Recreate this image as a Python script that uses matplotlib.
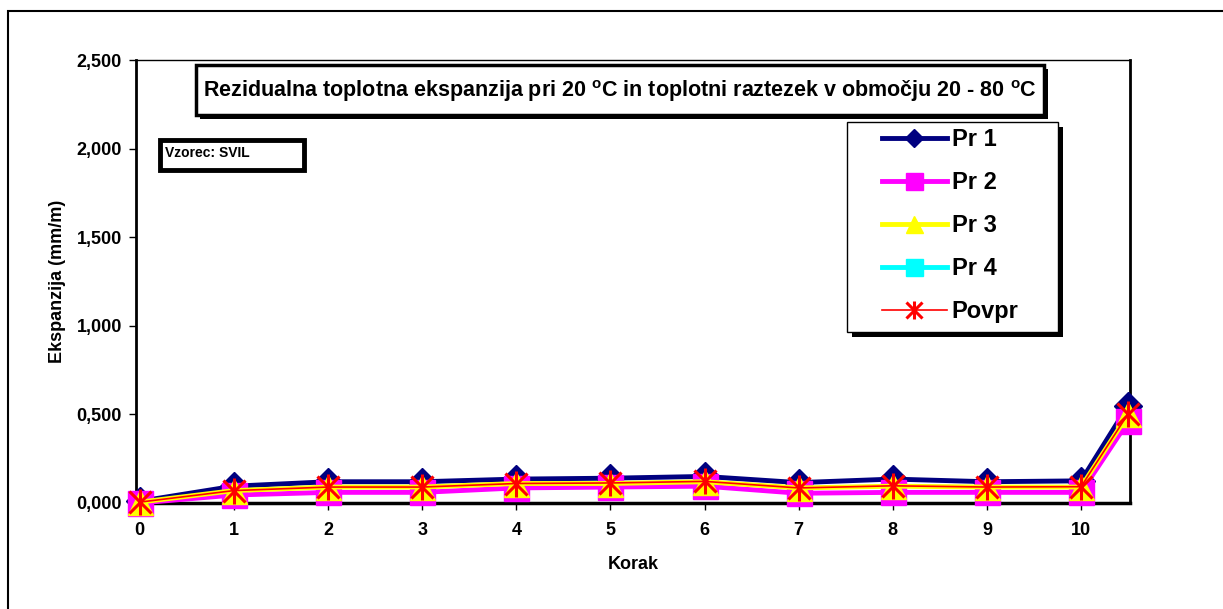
import matplotlib.pyplot as plt
from matplotlib.patches import Rectangle
from matplotlib.legend_handler import HandlerTuple

plt.rcParams['font.family'] = ['Liberation Sans', 'DejaVu Sans']
plt.rcParams['font.weight'] = 'bold'
plt.rcParams['mathtext.fontset'] = 'custom'
plt.rcParams['mathtext.rm'] = 'Liberation Sans:bold'
plt.rcParams['mathtext.default'] = 'rm'

# data
korak = [0, 1, 2, 3, 4, 5, 6, 7, 8, 9, 10, 10.5]
tick_pos = [0, 1, 2, 3, 4, 5, 6, 7, 8, 9, 10]
tick_lbl = ["0", "1", "2", "3", "4", "5", "6", "7", "8", "9", "10"]
pr1 = [0.010, 0.095, 0.120, 0.120, 0.135, 0.140, 0.150, 0.115, 0.135, 0.120, 0.125, 0.550]
pr2 = [0.000, 0.045, 0.060, 0.060, 0.085, 0.090, 0.095, 0.055, 0.060, 0.060, 0.060, 0.460]
pr3 = [0.005, 0.070, 0.090, 0.090, 0.110, 0.110, 0.120, 0.085, 0.095, 0.090, 0.090, 0.500]
pr4 = []
povpr = [0.005, 0.070, 0.090, 0.090, 0.110, 0.113, 0.122, 0.085, 0.097, 0.090, 0.092, 0.503]
yticks = [0, 0.5, 1.0, 1.5, 2.0, 2.5]
ylabels = ["0,000", "0,500", "1,000", "1,500", "2,000", "2,500"]

W, H = 1223, 609
fig = plt.figure(figsize=(W / 100, H / 100), dpi=100)


def fx(px):
    return px / W


def fy(py):
    return 1 - py / H


ax = fig.add_axes([fx(136), fy(503), fx(1130) - fx(136), fy(60) - fy(503)])

l1, = ax.plot(korak, pr1, color='#000080', lw=3.5, marker='D', ms=14, zorder=3, clip_on=False)
l2, = ax.plot(korak, pr2, color='#ff00ff', lw=3.5, marker='s', ms=18, zorder=4, clip_on=False)
l3, = ax.plot(korak, pr3, color='#ffff00', lw=3.5, marker='^', ms=18, zorder=5, clip_on=False)
l4, = ax.plot(pr4, pr4, color='#00ffff', lw=3.5, marker='s', ms=18, zorder=6, clip_on=False)
l5, = ax.plot(korak, povpr, color='red', lw=1.2, marker='x', ms=16, mew=2.2, zorder=7, clip_on=False)
l5b, = ax.plot(korak, povpr, ls='none', color='red', marker='|', ms=19, mew=2.2, zorder=7, clip_on=False)

ax.set_xlim(-0.04, 10.52)
ax.set_ylim(0, 2.5)
ax.set_xticks(tick_pos)
ax.set_xticklabels(tick_lbl, fontsize=13)
ax.set_yticks(yticks)
ax.set_yticklabels(ylabels, fontsize=13)
ax.tick_params(length=5, width=1)
ax.tick_params(axis='x', pad=9)
ax.tick_params(axis='y', pad=5)
for s in ax.spines.values():
    s.set_linewidth(1)
ax.spines['left'].set_linewidth(2)
ax.spines['bottom'].set_linewidth(2.5)
ax.spines['right'].set_linewidth(2)
ax.set_xlabel("Korak", fontsize=13, fontweight='bold', labelpad=12)
ax.set_ylabel("Ekspanzija (mm/m)", fontsize=13, fontweight='bold', labelpad=8)

# figure border
fig.add_artist(Rectangle((fx(8), fy(640)), fx(1260) - fx(8), fy(11) - fy(640),
                         transform=fig.transFigure, fill=False, lw=1.5, ec='black'))


def box(x0, y0, x1, y1, lw, sh):
    if sh:
        fig.add_artist(Rectangle((fx(x0 + sh), fy(y1 + sh)), fx(x1) - fx(x0), fy(y0) - fy(y1),
                                 transform=fig.transFigure, fc='black', ec='black', lw=0, zorder=30))
    fig.add_artist(Rectangle((fx(x0), fy(y1)), fx(x1) - fx(x0), fy(y0) - fy(y1),
                             transform=fig.transFigure, fc='white', ec='black', lw=lw, zorder=31))


box(196, 65, 1044, 115, 2.5, 4)
fig.text(fx(620), fy(91), "Rezidualna toplotna ekspanzija pri 20 $^{o}$C in toplotni raztezek v območju 20 - 80 $^{o}$C",
         ha='center', va='center', fontsize=15.5, fontweight='bold', zorder=32)

box(160, 140, 304, 170, 3.5, 0)
fig.text(fx(165), fy(153), "Vzorec: SVIL", ha='left', va='center', fontsize=10, fontweight='bold', zorder=32)

# legend box
box(847, 122, 1058, 332, 1, 5)
leg = fig.legend([l1, l2, l3, l4, (l5, l5b)], ['Pr 1', 'Pr 2', 'Pr 3', 'Pr 4', 'Povpr'],
                 handler_map={tuple: HandlerTuple(ndivide=1)},
                 loc='upper left', bbox_to_anchor=(fx(882), fy(128)),
                 borderaxespad=0, borderpad=0, frameon=False,
                 prop={'size': 17, 'weight': 'bold'}, handlelength=2.75, handletextpad=0.2,
                 labelspacing=0.85, markerscale=0.68)
leg.set_zorder(40)

fig.savefig("out.png", dpi=100)
